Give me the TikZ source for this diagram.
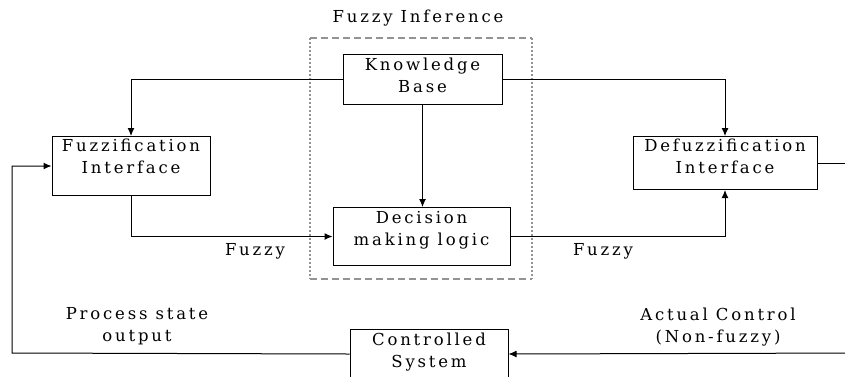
\documentclass[tikz,border=0pt]{standalone}
\usepackage{fontspec}
\setmainfont{DejaVu Serif}[LetterSpace=17]
\usepackage{tikz}
\usetikzlibrary{
	positioning,   %定位
	arrows.meta    %箭头
}
\tikzstyle{block}=[draw,
line width=1pt,
align=center,
inner xsep=0pt,
inner ysep=0pt,
anchor=north]
\tikzstyle{lbl}=[align=center,
inner sep=0pt]
\tikzset{
	every picture/.style={
		>={Latex[length=8pt,width=7pt]},
		x=1pt,y=-1pt,
		font=\fontsize{16.5}{22.5}\selectfont
}}

\begin{document}
\begin{tikzpicture}
	\useasboundingbox (0,0) rectangle (845,376);
	\clip (0,0) rectangle (845,376);
	% 模糊推理框
	\node (title) at (418,18) [lbl] {Fuzzy Inference};
	\coordinate (infnw) at (310,38);
	\coordinate (infse) at (532,279);
	\draw[gray!85,line width=1.3pt,dash pattern=on 7pt off 4pt] (infnw) -- (infnw -| infse);
	\draw[gray!85,line width=1.3pt,dash pattern=on 7pt off 4pt] (infnw |- infse) -- (infse);
	\draw[gray!85,line width=2pt,dash pattern=on 2pt off 2pt] (infnw) -- (infnw |- infse);
	\draw[gray!85,line width=2pt,dash pattern=on 2pt off 2pt] (infnw -| infse) -- (infse);
	% 方框
	\node (kb) at (422.5,54) [block,minimum width=159,text height=38,text depth=12] {Knowledge\\Base};
	\node (fuzz) at (131,136) [block,minimum width=158,text height=37,text depth=22] {Fuzzification\\Interface};
	\node (defuzz) at (725,136) [block,minimum width=184,text height=37,text depth=16] {Defuzzification\\Interface};
	\node (dml) at (421.5,207) [block,minimum width=177,text height=38,text depth=20] {Decision\\making logic};
	\node (ctrl) at (429,329) [block,minimum width=158,text height=38,text depth=11] {Controlled\\System};
	% 连线
	\coordinate (out) at (860,163);
	\coordinate (back) at (860,353);
	\coordinate (left) at (12,353);
	\draw[line width=1pt,->] (kb.west) -| (fuzz.north);
	\draw[line width=1pt,->] (kb.east) -| (defuzz.north);
	\draw[line width=1pt,->] (kb.south) -- (kb.south |- dml.north);
	\draw[line width=1pt,->] (fuzz.south) |- (dml.west);
	\draw[line width=1pt,->] (dml.east) -| (defuzz.south);
	\draw[line width=1pt] (defuzz.east) -- (out);
	\draw[line width=1pt,->] (back) -- (ctrl.east);
	\draw[line width=1pt,->] (ctrl.west) -- (left) |- (fuzz.west);
	% 标注
	\node (fz1) at (255,251) [lbl] {Fuzzy};
	\node (fz2) at (603,251) [lbl] {Fuzzy};
	\node (pso) at (137,326) [lbl] {Process state\\output};
	\node (acn) at (718,327) [lbl] {Actual Control\\(Non-fuzzy)};
\end{tikzpicture}
\end{document}
